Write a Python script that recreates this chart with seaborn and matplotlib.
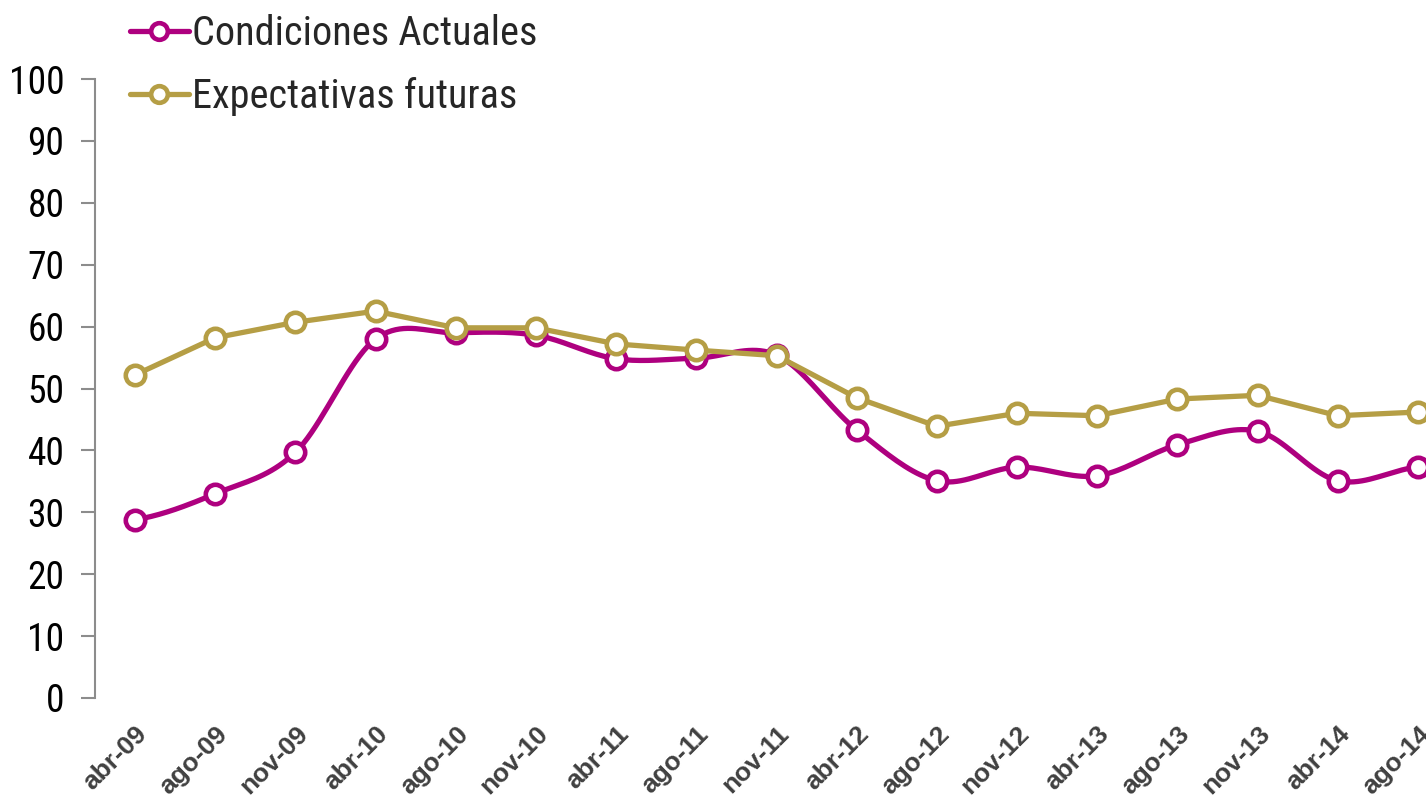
import numpy as np
import pandas as pd
import seaborn as sns
import matplotlib.pyplot as plt
from matplotlib import font_manager
from matplotlib.lines import Line2D

fechas = ['abr-09', 'ago-09', 'nov-09', 'abr-10', 'ago-10', 'nov-10', 'abr-11', 'ago-11',
          'nov-11', 'abr-12', 'ago-12', 'nov-12', 'abr-13', 'ago-13', 'nov-13', 'abr-14', 'ago-14']
actuales = [28.8, 33.0, 39.7, 58.0, 59.0, 58.6, 54.8, 54.9, 55.4,
            43.3, 35.1, 37.3, 35.9, 40.9, 43.1, 35.1, 37.3]
futuras = [52.2, 58.2, 60.7, 62.5, 59.8, 59.8, 57.2, 56.2, 55.3,
           48.5, 43.9, 46.0, 45.6, 48.3, 48.9, 45.6, 46.2]

c_act = '#AE007F'
c_fut = '#B59E45'

sns.set_theme(style='white')
names = {f.name for f in font_manager.fontManager.ttflist}
narrow = 'Liberation Sans Narrow' if 'Liberation Sans Narrow' in names else 'Roboto Condensed'
if narrow not in names:
    narrow = 'DejaVu Sans'
plt.rcParams['font.family'] = [narrow, 'DejaVu Sans']


def suavizar(y, n=20):
    # curva tipo Excel (Catmull-Rom entre puntos)
    y = np.asarray(y, float)
    x = np.arange(len(y), dtype=float)
    xs, ys = [], []
    for i in range(len(y) - 1):
        p0 = y[i - 1] if i > 0 else y[i]
        p3 = y[i + 2] if i + 2 < len(y) else y[i + 1]
        p1, p2 = y[i], y[i + 1]
        t = np.linspace(0, 1, n, endpoint=False)
        h = 0.5 * ((2 * p1) + (-p0 + p2) * t + (2 * p0 - 5 * p1 + 4 * p2 - p3) * t ** 2
                   + (-p0 + 3 * p1 - 3 * p2 + p3) * t ** 3)
        xs.extend(x[i] + t)
        ys.extend(h)
    xs.append(x[-1])
    ys.append(y[-1])
    return np.array(xs), np.array(ys)


lw, ms, mew = 3.8, 14, 3.3

fig = plt.figure(figsize=(14.26, 7.99), dpi=100)
ax = fig.add_axes([95 / 1426, 101 / 799, 1 - 95 / 1426, 619 / 799])

xs, ys = suavizar(actuales)
df_suave = pd.DataFrame({'x': xs, 'y': ys})
sns.lineplot(data=df_suave, x='x', y='y', ax=ax, color=c_act, linewidth=lw, zorder=2)
ax.plot(range(len(fechas)), actuales, linestyle='none', marker='o', ms=ms, mew=mew,
        mfc='white', mec=c_act, zorder=3)

df_fut = pd.DataFrame({'x': range(len(fechas)), 'y': futuras})
sns.lineplot(data=df_fut, x='x', y='y', ax=ax, color=c_fut, linewidth=lw, zorder=4)
ax.plot(range(len(fechas)), futuras, linestyle='none', marker='o', ms=ms, mew=mew,
        mfc='white', mec=c_fut, zorder=5)

ax.set_xlim(-0.5, 16.1)
ax.set_ylim(0, 100)
ax.set_yticks(range(0, 101, 10))
ax.set_xticks(range(len(fechas)))
ax.set_xticklabels(fechas, rotation=45, ha='right', rotation_mode='anchor',
                   fontsize=19, fontweight='bold', color='#404040',
                   family=['Liberation Sans', 'DejaVu Sans'])
ax.tick_params(axis='x', length=0, pad=17)
ax.tick_params(axis='y', left=True, length=10, width=1.5, color='#8c8c8c',
               labelsize=27, labelcolor='black', pad=12)
ax.set_xlabel('')
ax.set_ylabel('')
for s in ['top', 'right', 'bottom']:
    ax.spines[s].set_visible(False)
ax.spines['left'].set_color('#8c8c8c')
ax.spines['left'].set_linewidth(1.5)

h = [Line2D([], [], color=c_act, lw=lw, marker='o', ms=12, mew=mew, mfc='white', mec=c_act),
     Line2D([], [], color=c_fut, lw=lw, marker='o', ms=12, mew=mew, mfc='white', mec=c_fut)]
fig.legend(h, ['Condiciones Actuales', 'Expectativas futuras'], loc='upper left',
           bbox_to_anchor=(114 / 1426, 1.003), borderaxespad=0.0, frameon=False, fontsize=29,
           handlelength=1.45, handletextpad=0.08, labelspacing=0.6)

fig.savefig('out.png', dpi=100)
